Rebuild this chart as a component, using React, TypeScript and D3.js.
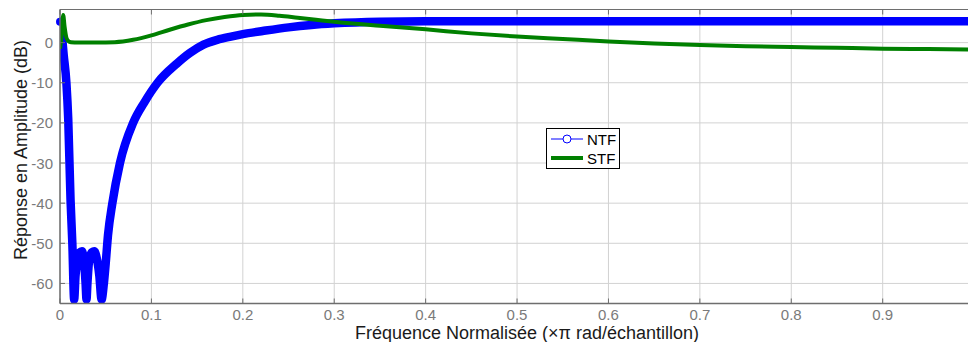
import React from 'react';
import * as d3 from 'd3';

// NTF readings (normalized freq x pi, dB)
const ntfFreq = [
  0, 0.002, 0.004, 0.007, 0.009, 0.0115, 0.0135, 0.0155, 0.017, 0.019, 0.0215, 0.024, 0.026,
  0.028, 0.029, 0.030, 0.032, 0.035, 0.0375, 0.040, 0.043, 0.0455, 0.048, 0.050, 0.0525,
  0.0573, 0.0656, 0.080, 0.092, 0.1067, 0.128, 0.142, 0.157, 0.172, 0.187, 0.2, 0.225, 0.25,
  0.275, 0.3, 0.35, 0.4, 0.5, 0.6, 0.7, 0.8, 0.9, 1.0,
];
const ntfDb = [
  5.2, 2, -3, -10, -19, -39, -50, -64, -58, -54, -52.3, -52, -54, -60, -64, -60, -54, -52.2,
  -52, -53.5, -58, -64, -60, -55, -48, -40, -30, -20, -15, -10, -5.2, -2.6, -0.5, 0.7, 1.5,
  2.1, 3.0, 3.8, 4.4, 4.8, 5.2, 5.3, 5.3, 5.3, 5.3, 5.3, 5.3, 5.3,
];

// STF readings
const stfFreq = [
  0, 0.0015, 0.0035, 0.005, 0.007, 0.009, 0.012, 0.02, 0.04, 0.06, 0.08, 0.1, 0.12, 0.14,
  0.16, 0.18, 0.2, 0.22, 0.24, 0.26, 0.28, 0.3, 0.35, 0.4, 0.45, 0.5, 0.55, 0.6, 0.65, 0.7,
  0.75, 0.8, 0.85, 0.9, 0.95, 1.0,
];
const stfDb = [
  -1.5, 1, 6.9, 4, 1.2, 0.4, 0.1, 0, 0, 0.1, 0.7, 1.8, 3.2, 4.5, 5.6, 6.4, 6.9, 7.0, 6.7, 6.2,
  5.7, 5.2, 4.2, 3.3, 2.3, 1.5, 0.9, 0.3, -0.2, -0.6, -0.9, -1.1, -1.3, -1.5, -1.6, -1.7,
];

const xTicks = [0, 0.1, 0.2, 0.3, 0.4, 0.5, 0.6, 0.7, 0.8, 0.9];
const yTicks = [-60, -50, -40, -30, -20, -10, 0];
const legendLabels = ['NTF', 'STF'];

const W = 968;
const H = 342;
const left = 60;
const top = 9.5;
const bottom = 303.5;

export default function App() {
  const x = d3.scaleLinear().domain([0, 1]).range([left, 974.1]);
  const y = d3.scaleLinear().domain([-65, 8.25]).range([bottom, top]);

  const ntf = ntfFreq.map((f, i) => [f, ntfDb[i]] as [number, number]);
  const stf = stfFreq.map((f, i) => [f, stfDb[i]] as [number, number]);

  const line = d3
    .line<[number, number]>()
    .x((d) => x(d[0]))
    .y((d) => y(d[1]))
    .curve(d3.curveMonotoneX);

  const axisCol = '#6e6e6e';
  const tickCol = '#7a7a7a';
  const gridCol = '#d2d2d2';
  const font = 'Liberation Sans, Arial, sans-serif';

  return (
    <svg
      width={W}
      height={H}
      style={{ position: 'absolute', left: 0, top: 0, background: '#fff' }}
      fontFamily={font}
    >
      <defs>
        <clipPath id="plot">
          <rect x={left} y={top} width={W - left} height={bottom - top} />
        </clipPath>
      </defs>

      {/* grid */}
      {xTicks.map((t) => (
        <line key={'gx' + t} x1={x(t)} x2={x(t)} y1={top} y2={bottom} stroke={gridCol} />
      ))}
      {yTicks.map((t) => (
        <line key={'gy' + t} x1={left} x2={W} y1={y(t)} y2={y(t)} stroke={gridCol} />
      ))}

      {/* curves */}
      <g clipPath="url(#plot)">
        <path d={line(ntf) || ''} fill="none" stroke="#0000ff" strokeWidth={8.5} strokeLinejoin="round" strokeLinecap="round" />
      </g>
      {/* first NTF marker is not clipped */}
      <circle cx={x(ntf[0][0])} cy={y(ntf[0][1])} r={4} fill="#0000ff" />
      <g clipPath="url(#plot)">
        <path d={line(stf) || ''} fill="none" stroke="#008000" strokeWidth={4} strokeLinejoin="round" />
      </g>

      {/* axes box */}
      <line x1={left} x2={W} y1={top} y2={top} stroke={axisCol} />
      <line x1={left} x2={W} y1={bottom} y2={bottom} stroke={axisCol} strokeWidth={1.5} />
      <line x1={left} x2={left} y1={top} y2={bottom} stroke={axisCol} strokeWidth={1.5} />

      {/* ticks */}
      {xTicks.map((t) => (
        <g key={'tx' + t}>
          <line x1={x(t)} x2={x(t)} y1={bottom} y2={bottom - 5} stroke={axisCol} />
          <line x1={x(t)} x2={x(t)} y1={top} y2={top + 5} stroke={axisCol} />
          <text x={x(t)} y={320} textAnchor="middle" fontSize={15} fill={tickCol}>
            {t === 0 ? '0' : t.toFixed(1)}
          </text>
        </g>
      ))}
      {yTicks.map((t) => (
        <g key={'ty' + t}>
          <line x1={left} x2={left + 5} y1={y(t)} y2={y(t)} stroke={axisCol} />
          <text x={53} y={y(t) + 5.5} textAnchor="end" fontSize={15} fill={tickCol}>
            {t}
          </text>
        </g>
      ))}

      {/* axis labels */}
      <text x={527} y={339} textAnchor="middle" fontSize={18} fill="#1a1a1a">
        Fréquence Normalisée (×π rad/échantillon)
      </text>
      <text
        transform={`translate(27,150) rotate(-90)`}
        textAnchor="middle"
        fontSize={18}
        fill="#1a1a1a"
      >
        Réponse en Amplitude (dB)
      </text>

      {/* legend */}
      <g>
        <rect x={546.5} y={128.5} width={73} height={40} fill="#fff" stroke="#000" />
        <line x1={551} x2={583} y1={139} y2={139} stroke="#0000ff" />
        <circle cx={567} cy={139} r={4} fill="#fff" stroke="#0000ff" />
        <text x={587} y={144.5} fontSize={15} fill="#000">{legendLabels[0]}</text>
        <line x1={551} x2={583} y1={158} y2={158} stroke="#008000" strokeWidth={4} />
        <text x={587} y={163.5} fontSize={15} fill="#000">{legendLabels[1]}</text>
      </g>
    </svg>
  );
}
